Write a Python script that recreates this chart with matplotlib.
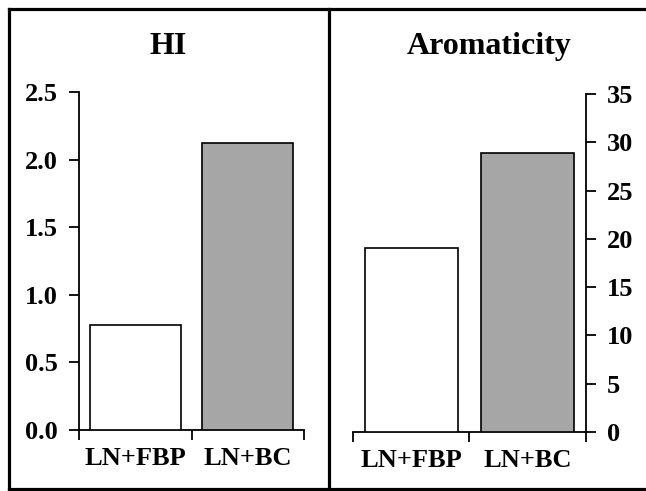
import matplotlib
matplotlib.use("Agg")
import matplotlib.pyplot as plt
from matplotlib.lines import Line2D

categories = ["LN+FBP", "LN+BC"]
hi_values = [0.78, 2.12]
arom_values = [19.1, 28.9]
bar_colors = ["#ffffff", "#a6a6a6"]
hi_ticks = [0.0, 0.5, 1.0, 1.5, 2.0, 2.5]
arom_ticks = [0, 5, 10, 15, 20, 25, 30, 35]

plt.rcParams["font.family"] = ["Liberation Serif", "DejaVu Serif"]
plt.rcParams["font.weight"] = "bold"

fig = plt.figure(figsize=(6.46, 4.91), dpi=100)

ax1 = fig.add_axes([0.1223, 0.1242, 0.3483, 0.6884])
ax2 = fig.add_axes([0.5464, 0.1202, 0.3607, 0.6884])

def style_axis(ax, values, ticks, ylim, width, side):
    pos = [i + 0.5 for i in range(len(values))]
    ax.bar(pos, values, width=width, color=bar_colors, edgecolor="black", linewidth=1.2, zorder=3)
    ax.set_xlim(0, len(values))
    ax.set_ylim(*ylim)
    ax.set_yticks(ticks)
    ax.set_xticks(range(len(values) + 1))
    ax.set_xticklabels([])
    ax.set_xticks(pos, minor=True)
    ax.set_xticklabels(categories, minor=True, fontsize=19, fontweight="bold")
    ax.tick_params(axis="x", which="major", direction="out", length=7, width=1.3)
    ax.tick_params(axis="x", which="minor", length=0, pad=12)
    ax.tick_params(axis="y", direction="out", length=7, width=1.3, labelsize=19, pad=8)
    for lab in ax.get_yticklabels():
        lab.set_fontweight("bold")
    ax.spines["top"].set_visible(False)
    if side == "left":
        ax.spines["right"].set_visible(False)
    else:
        ax.spines["left"].set_visible(False)
        ax.yaxis.tick_right()
        ax.yaxis.set_label_position("right")
    for s in ax.spines.values():
        s.set_linewidth(1.3)

style_axis(ax1, hi_values, hi_ticks, (0, 2.5), 0.81, "left")
ax1.set_yticklabels([f"{t:.1f}" for t in hi_ticks], fontweight="bold")
style_axis(ax2, arom_values, arom_ticks, (0, 35), 0.8, "right")
ax2.set_yticklabels([str(t) for t in arom_ticks], fontweight="bold")

fig.text(0.26, 0.905, "HI", ha="center", va="center", fontsize=23, fontweight="bold")
fig.text(0.757, 0.905, "Aromaticity", ha="center", va="center", fontsize=23, fontweight="bold")

# panel frame
lw = 2.3
frame = [
    ([0.0132, 1.0], [0.9807, 0.9807]),
    ([0.0132, 0.0132], [0.004, 0.9807]),
    ([0.5093, 0.5093], [0.004, 0.9807]),
    ([0.0132, 1.0], [0.004, 0.004]),
]
for xs, ys in frame:
    fig.add_artist(Line2D(xs, ys, transform=fig.transFigure, color="black", linewidth=lw))

fig.savefig("out.png", dpi=100)
